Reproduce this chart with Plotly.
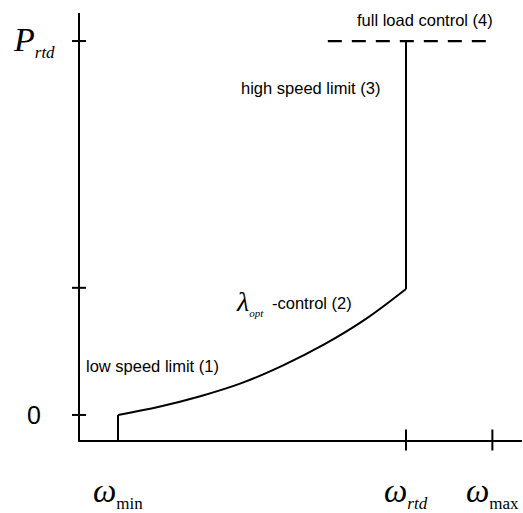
import plotly.graph_objects as go

# speed / power values (per unit of rated)
omega_min = 0.30
omega_rtd = 1.00
omega_max = 1.21
p_rtd = 1.00
p_corner = 0.34

# lambda_opt control curve (2)
omega_curve = [0.30, 0.40, 0.50, 0.60, 0.70, 0.80, 0.90, 1.00]
p_curve = [0.000, 0.022, 0.050, 0.085, 0.132, 0.188, 0.255, 0.337]

# full load control (4)
omega_full = [0.81, 1.21]
p_full = [p_rtd, p_rtd]

# axis marks and labels
SUB = '<sub><span style="font-size:17px">%s</span></sub>'
x_tick_marks = [omega_rtd, omega_max]
x_label_vals = [omega_min, omega_rtd, omega_max]
x_label_text = ["<i>ω</i>" + SUB % "min", "<i>ω</i>" + SUB % "<i>rtd</i>", "<i>ω</i>" + SUB % "max"]
y_tick_marks = [0, p_corner, p_rtd]
y_label_vals = [0, p_rtd]
y_label_text = ["0", "<i>P</i>" + SUB % "<i>rtd</i>"]

x_range = [0.2076, 1.282]
y_range = [-0.067, 1.075]

SERIF = "Liberation Serif"
SANS = "Liberation Sans"
line = dict(color="black", width=2)

fig = go.Figure()
# low speed limit (1)
fig.add_trace(go.Scatter(x=[omega_min, omega_min], y=[y_range[0], p_curve[0]], mode="lines", line=line))
fig.add_trace(go.Scatter(x=omega_curve, y=p_curve, mode="lines", line=dict(color="black", width=2, shape="spline")))
# high speed limit (3)
fig.add_trace(go.Scatter(x=[omega_rtd, omega_rtd], y=[p_curve[-1], p_rtd], mode="lines", line=line))
fig.add_trace(go.Scatter(x=omega_full, y=p_full, mode="lines",
                         line=dict(color="black", width=2.2, dash="14px,10px")))

# ticks crossing the axes
shapes = []
for xv in x_tick_marks:
    shapes.append(dict(type="line", xref="x", yref="paper", x0=xv, x1=xv,
                       y0=-10.5 / 427, y1=10.5 / 427, line=line))
for yv in y_tick_marks:
    shapes.append(dict(type="line", xref="paper", yref="y", x0=-8 / 442, x1=6 / 442,
                       y0=yv, y1=yv, line=line))

annotations = []
for xv, txt in zip(x_label_vals, x_label_text):
    annotations.append(dict(x=xv, y=-53 / 427, xref="x", yref="paper", text=txt, showarrow=False,
                            xanchor="center", yanchor="middle",
                            font=dict(family=SERIF, size=33, color="black")))
for yv, txt in zip(y_label_vals, y_label_text):
    fnt = dict(family=SANS, size=25, color="black") if txt == "0" else dict(family=SERIF, size=34, color="black")
    annotations.append(dict(x=-46 / 442, y=yv, xref="paper", yref="y", text=txt, showarrow=False,
                            xanchor="center", yanchor="middle", font=fnt))

text_font = dict(family=SANS, size=16.5, color="black")
annotations += [
    dict(x=1.046, y=1.056, text="full load control (4)"),
    dict(x=0.767, y=0.874, text="high speed limit (3)"),
    dict(x=0.383, y=0.131, text="low speed limit (1)"),
    dict(x=0.669, y=0.300, text="-control (2)", xanchor="left"),
]
for a in annotations[-4:]:
    a.update(xref="x", yref="y", showarrow=False, font=text_font)
    a.setdefault("xanchor", "center")
annotations.append(dict(x=0.621, y=0.302, xref="x", yref="y", showarrow=False,
                        text='<i>λ</i><sub><span style="font-size:11px"><i>opt</i></span></sub>',
                        font=dict(family=SERIF, size=28, color="black")))

fig.update_layout(
    width=523, height=513,
    margin=dict(l=80, r=1, t=13, b=73, autoexpand=False),
    plot_bgcolor="white", paper_bgcolor="white",
    font=dict(color="black"),
    showlegend=False,
    shapes=shapes, annotations=annotations,
    xaxis=dict(range=x_range, showline=True, linecolor="black", linewidth=2, showgrid=False,
               zeroline=False, showticklabels=False, ticks=""),
    yaxis=dict(range=y_range, showline=True, linecolor="black", linewidth=2, showgrid=False,
               zeroline=False, showticklabels=False, ticks=""),
)

# drop the page's default 8px body margin so the figure fills the window
fig.write_html("out.html", config={"displayModeBar": False},
               post_script="document.body.style.margin='0px';")
